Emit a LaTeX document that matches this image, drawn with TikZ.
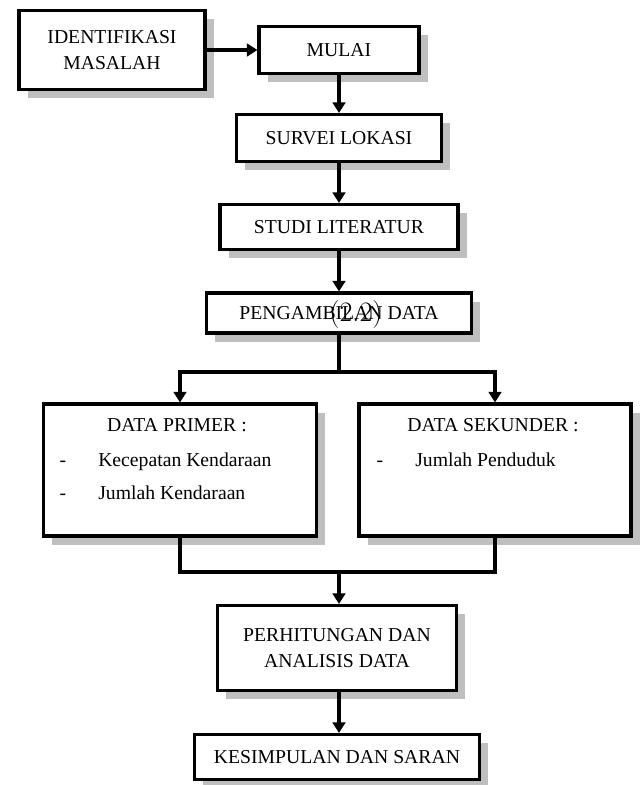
\documentclass[tikz,border=0pt]{standalone}
\usepackage{fontspec}
\newfontfamily\timesfont{Liberation Serif}
\usetikzlibrary{arrows.meta,shadows}
\begin{document}
\begin{tikzpicture}[x=0.025cm,y=-0.025cm,>={Triangle[width=9pt,length=7.5pt]},
	kotak/.style={draw,line width=2.2pt,fill=white,inner sep=0pt,align=center,
		font=\timesfont\fontsize{14}{18}\selectfont,
		drop shadow={shadow xshift=0.22cm,shadow yshift=-0.22cm,fill=black!25,opacity=1}},
	teks/.style={font=\timesfont\fontsize{14}{18}\selectfont,inner sep=0pt},
	garis/.style={line width=2.2pt}]
	\useasboundingbox (0,0) rectangle (642,785);
	\node[kotak,minimum width=4.65cm,minimum height=1.975cm] (iden) at (112,50) {IDENTIFIKASI\\MASALAH};
	\node[kotak,minimum width=4cm,minimum height=1.175cm] (mulai) at (339,50) {MULAI};
	\node[kotak,minimum width=5.125cm,minimum height=1.175cm] (survei) at (339,138) {SURVEI LOKASI};
	\node[kotak,minimum width=5.95cm,minimum height=1.125cm] (studi) at (339,227) {STUDI LITERATUR};
	\node[kotak,minimum width=6.625cm,minimum height=1cm] (ambil) at (339,313) {PENGAMBILAN DATA};
	\node[font=\fontsize{20}{24}\selectfont,inner sep=0pt] (nomor) at (356,314) {(2.2)};
	\node[kotak,minimum width=6.825cm,minimum height=3.3cm] (primer) at (180,470) {};
	\node[kotak,minimum width=6.8cm,minimum height=3.3cm] (sekunder) at (495,470) {};
	\node[kotak,minimum width=5.975cm,minimum height=2.125cm] (hitung) at (337,648) {PERHITUNGAN DAN\\ANALISIS DATA};
	\node[kotak,minimum width=7.125cm,minimum height=1.125cm] (simpul) at (337,757) {KESIMPULAN DAN SARAN};
	% isi kotak data
	\node[teks] (jdl1) at (177,425) {DATA PRIMER :};
	\node[teks] (jdl2) at (493,425) {DATA SEKUNDER :};
	\foreach \n/\x/\y/\t in {a/63/466/Kecepatan Kendaraan,b/63/499/Jumlah Kendaraan,c/380/466/Jumlah Penduduk}
		{\node[teks,anchor=base] (s\n) at (\x,\y) {-};
		\node[teks,anchor=base west] (i\n) at (\x+35,\y) {\t};}
	% panah
	\coordinate (cab) at (339,372);
	\coordinate (gab) at (339,572);
	\draw[->,garis] (iden.east|-mulai) -- (mulai.west);
	\foreach \a/\b in {mulai/survei,survei/studi,studi/ambil}\draw[->,garis] (\a) -- (\b);
	\draw[garis] (ambil) -- (cab);
	\draw[<->,garis] (primer) |- (cab) -| (sekunder);
	\draw[garis] (primer) |- (gab) -| (sekunder);
	\draw[->,garis] (gab) -- (hitung.north-|gab);
	\draw[->,garis] (hitung.south-|gab) -- (simpul.north-|gab);
\end{tikzpicture}
\end{document}
